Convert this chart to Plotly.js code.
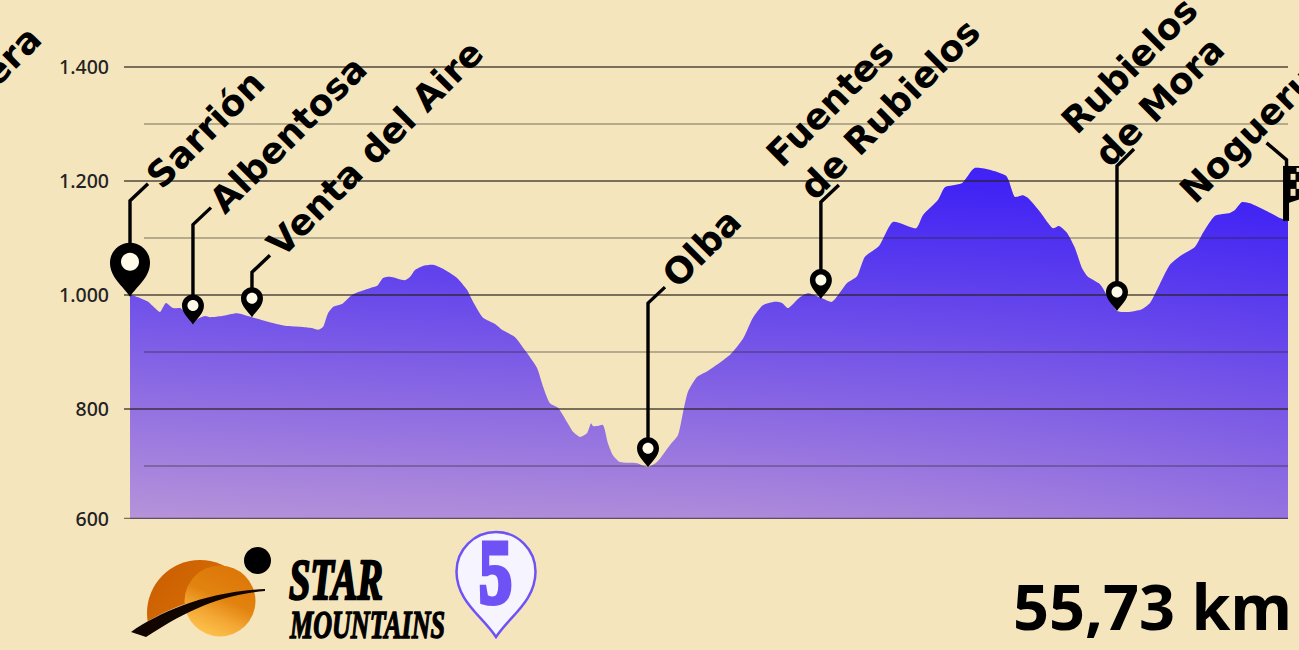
<!DOCTYPE html>
<html><head><meta charset="utf-8">
<script src="https://cdn.plot.ly/plotly-3.0.1.min.js"></script>
<style>html,body{margin:0;padding:0;background:#f4e5bd;overflow:hidden}#c{width:1299px;height:650px}</style>
</head><body><div id="c"></div>
<script>
const distanceKm=[0,.39,.87,1.2,1.44,1.73,2.07,2.41,2.74,3.03,3.37,3.61,3.85,4.43,5.15,5.87,6.64,7.46,8.28,8.76,9.05,9.29,9.53,9.77,10.2,10.68,10.97,11.55,11.89,12.18,12.51,13.23,13.48,13.72,14.1,14.58,15.06,15.74,16.22,16.51,16.99,17.57,17.9,18.53,19.01,19.59,19.88,20.21,20.6,21.03,21.32,21.66,22,22.19,22.28,22.52,22.76,23,23.24,23.58,24.4,24.93,25.36,25.99,26.37,26.61,26.85,27.29,27.82,28.88,29.5,29.98,30.46,31.04,31.38,31.67,32.24,32.63,33.25,33.78,34.51,34.99,35.37,36.05,36.72,37.83,38.16,38.89,39.22,40.04,40.67,42.16,42.59,42.98,43.22,43.79,44.42,44.71,45.09,45.48,45.82,46.1,46.68,47.07,47.5,48.03,48.7,49.09,49.43,50.05,50.53,51.25,51.64,52.22,52.94,53.18,53.52,53.9,54.72,55.34,55.73];
const elevationM=[1001,996,988,977,970,986,977,977,967,953,960,963,961,963,968,961,953,946,944,942,939,944,968,979,984,1000,1005,1012,1016,1030,1032,1026,1032,1044,1051,1053,1046,1030,1009,988,960,949,939,926,903,872,839,810,802,777,760,751,758,775,770,770,772,740,719,707,705,698,707,737,754,793,830,856,867,895,923,960,982,988,986,977,996,1003,995,988,1021,1033,1067,1086,1128,1117,1140,1167,1189,1196,1223,1209,1172,1175,1170,1146,1117,1121,1109,1082,1047,1032,1019,996,972,970,975,986,1009,1053,1068,1084,1109,1139,1144,1149,1163,1161,1147,1135,1130];
const stopNames=["Sarrión","Albentosa","Venta del Aire","Olba","Fuentes<br>de Rubielos","Rubielos<br>de Mora"];
const stopKm=[0,3.03,5.87,24.93,33.25,47.5];
const stopElev=[997,948,961,698,993,972];
const majorTicks=[800,1000,1200,1400];
const minorTicks=[700,900,1100,1300];
const tickValues=[607,800,1000,1200,1400];
const tickLabels=["600","800","1.000","1.200","1.400"];
const totalDistance="55,73 km";

const W=1299,H=650,L=110,B=519;
const px=x=>(x-L)/(W-L), py=y=>(B-y)/B;
const K=.5523;
const circ=(cx,cy,r)=>`M${cx-r},${cy} C${cx-r},${cy+K*r} ${cx-K*r},${cy+r} ${cx},${cy+r} C${cx+K*r},${cy+r} ${cx+r},${cy+K*r} ${cx+r},${cy} C${cx+r},${cy-K*r} ${cx+K*r},${cy-r} ${cx},${cy-r} C${cx-K*r},${cy-r} ${cx-r},${cy-K*r} ${cx-r},${cy} Z`;
const pin=(w,h)=>{const r=w/2,c=h-r;return `M0,0 C${-r*.35},${h*.2} ${-r},${c-r*.75} ${-r},${c} C${-r},${c+K*r} ${-K*r},${c+r} 0,${c+r} C${K*r},${c+r} ${r},${c+K*r} ${r},${c} C${r},${c-r*.75} ${r*.35},${h*.2} 0,0 Z`;};
const anchored=(km,el,path,o)=>Object.assign({type:'path',xref:'x',yref:'y',xsizemode:'pixel',ysizemode:'pixel',xanchor:km,yanchor:el,path,layer:'above',line:{width:0}},o);

const leaders=[[96,113,18],[100,117,18],[45,62,18],[164,180,17],[97,114,18],[145,162,17]];
const pinSize=[[40,54,35,9],[22,30,19,5.5],[22,30,19,5.5],[22,30,19,5.5],[22,30,19,5.5],[22,30,19,5.5]];

const shapes=[];
majorTicks.forEach(v=>shapes.push({type:'line',xref:'x',yref:'y',x0:-.289,x1:55.73,y0:v,y1:v,layer:'above',line:{color:'rgba(40,32,25,.6)',width:2}}));
minorTicks.forEach(v=>shapes.push({type:'line',xref:'x',yref:'y',x0:.674,x1:55.73,y0:v,y1:v,layer:'above',line:{color:'rgba(40,32,25,.3)',width:2}}));
shapes.push({type:'line',xref:'x',yref:'y',x0:-.289,x1:55.73,y0:607.5,y1:607.5,layer:'above',line:{color:'rgba(40,32,25,.6)',width:2}});
stopKm.forEach((km,i)=>{
  const [a,b,c]=leaders[i],[w,h,hy,hr]=pinSize[i];
  shapes.push(anchored(km,stopElev[i],`M0,${h-4} L0,${a} L${c},${b}`,{line:{color:'#000',width:3.4},fillcolor:'rgba(0,0,0,0)'}));
  shapes.push(anchored(km,stopElev[i],pin(w,h),{fillcolor:'#000'}));
  shapes.push(anchored(km,stopElev[i],circ(0,hy,hr),{fillcolor:'#fffbe8'}));
});
// finish flag, anchored at the end of the profile
const fk=55.66,fe=1130;
shapes.push(anchored(fk,fe,'M0,54 L0,61 L-20,78',{line:{color:'#000',width:3.4},fillcolor:'rgba(0,0,0,0)'}));
shapes.push(anchored(fk,fe,'M-3.5,0 L2.5,0 L2.5,55 L-3.5,55 Z',{fillcolor:'#000'}));
shapes.push(anchored(fk,fe,'M2,55 L14,55 L14,22 L2,18 Z',{fillcolor:'#000'}));
[[4,41,9,47],[10,49,14,53],[10,32,14,39],[4,25,9,32]].forEach(r=>shapes.push(anchored(fk,fe,`M${r[0]},${r[1]} L${r[2]},${r[1]} L${r[2]},${r[3]} L${r[0]},${r[3]} Z`,{fillcolor:'#f4e5bd'})));
// numbered pin below the chart
const pinX=496,pinY=637;
shapes.push({type:'path',xref:'paper',yref:'paper',xsizemode:'pixel',ysizemode:'pixel',xanchor:px(pinX),yanchor:py(pinY),path:pin(79,105),fillcolor:'#f6f5ff',line:{color:'#6f52f5',width:2.5},layer:'above'});

const labelCentres=[[205,129],[288,134],[374.5,148],[701,248],[873,93],[1146,82]];
const ann=(text,x,y,o)=>Object.assign({text,xref:'paper',yref:'paper',x:px(x),y:py(y),xanchor:'center',yanchor:'middle',showarrow:false,align:'left',font:{family:'DejaVu Sans',size:36,color:'#000',weight:700}},o||{});
const annotations=stopNames.map((n,i)=>ann(n,labelCentres[i][0],labelCentres[i][1],{textangle:-45}));
annotations.push(ann("Manzanera",-44,112,{textangle:-45}));
annotations.push(ann("Nogueruelas",1277,106,{textangle:-45}));
annotations.push(ann(totalDistance,1152,605,{font:{family:'Noto Sans',size:63,color:'#000',weight:700}}));
annotations.push(ann("STAR",360,579,{font:{family:'Liberation Sans Narrow',size:58,color:'#000',weight:700,style:'italic'}}));
annotations.push(ann("MOUNTAINS",411.5,624,{font:{family:'Liberation Sans Narrow',size:41,color:'#000',weight:700,style:'italic'}}));
annotations.push(ann("5",501.5,572,{font:{family:'Liberation Sans Narrow',size:90,color:'#6f52f5',weight:700}}));

const logo=`<svg xmlns="http://www.w3.org/2000/svg" width="150" height="100" viewBox="125 543 150 100">
<defs><linearGradient id="d" x1="0" y1="0" x2="1" y2="1"><stop offset="0" stop-color="#c95c00"/><stop offset="1" stop-color="#e27c0a"/></linearGradient>
<linearGradient id="l" x1=".7" y1="0" x2=".25" y2="1"><stop offset="0" stop-color="#db7507"/><stop offset=".45" stop-color="#e2830f"/><stop offset=".7" stop-color="#f3a734"/><stop offset="1" stop-color="#ffc650"/></linearGradient>
<clipPath id="u"><path d="M125,650 L131,632 C160,612 200,592 265,589 L275,543 L125,543 Z"/></clipPath></defs>
<circle cx="200" cy="613" r="53" fill="url(#d)" clip-path="url(#u)"/>
<circle cx="220" cy="601" r="35.5" fill="url(#l)"/>
<path d="M131,632 C160,612 205,592 265,589 L265,591 C215,595 180,615 146,637 Z" fill="#120500"/>
<circle cx="257.5" cy="560.5" r="13.5" fill="#000"/></svg>`;

const data=[
 {type:'scatter',mode:'lines',x:distanceKm,y:elevationM,line:{width:0,shape:'spline',smoothing:.6},fill:'tozeroy',hoverinfo:'skip',
  fillgradient:{type:'vertical',start:607,stop:1190,colorscale:[[0,'#b490d8'],[.35,'#8a68e2'],[.7,'#5f40ec'],[1,'#3c1ef6']]}},
 {type:'scatter',mode:'lines',x:distanceKm,y:elevationM,line:{width:0,shape:'spline',smoothing:.6},fill:'tozeroy',hoverinfo:'skip',
  fillgradient:{type:'horizontal',start:0,stop:55.73,colorscale:[[0,'rgba(200,170,225,.12)'],[.5,'rgba(120,90,235,.08)'],[1,'rgba(60,30,246,.25)']]}}
];
const layout={width:W,height:H,margin:{l:L,r:0,t:0,b:H-B,pad:0},paper_bgcolor:'#f4e5bd',plot_bgcolor:'rgba(0,0,0,0)',showlegend:false,
 xaxis:{range:[-.9625,56.2596],visible:false,fixedrange:true},
 yaxis:{range:[607,1517.5],tickmode:'array',tickvals:tickValues,ticktext:tickLabels,showgrid:false,zeroline:false,showline:false,ticks:'',fixedrange:true,tickfont:{family:'Noto Sans',size:19.5,color:'#222',weight:500}},
 shapes,annotations,
 images:[{source:'data:image/svg+xml;charset=utf-8,'+encodeURIComponent(logo),xref:'paper',yref:'paper',x:px(125),y:py(543),sizex:150/(W-L),sizey:100/B,xanchor:'left',yanchor:'top',sizing:'stretch',layer:'above'}]};
Plotly.newPlot('c',data,layout,{staticPlot:true,displayModeBar:false}).then(()=>{
 document.querySelectorAll('.annotation-text').forEach(t=>{
  const s=t.textContent, m={"STAR":[94,2.4],"MOUNTAINS":[155,1.5],"5":[33,5]}[s];
  if(m){t.setAttribute('textLength',m[0]);t.setAttribute('lengthAdjust','spacingAndGlyphs');t.style.stroke=s==='5'?'#6f52f5':'#000';t.style.strokeWidth=m[1]+'px';}
 });
});
</script></body></html>
